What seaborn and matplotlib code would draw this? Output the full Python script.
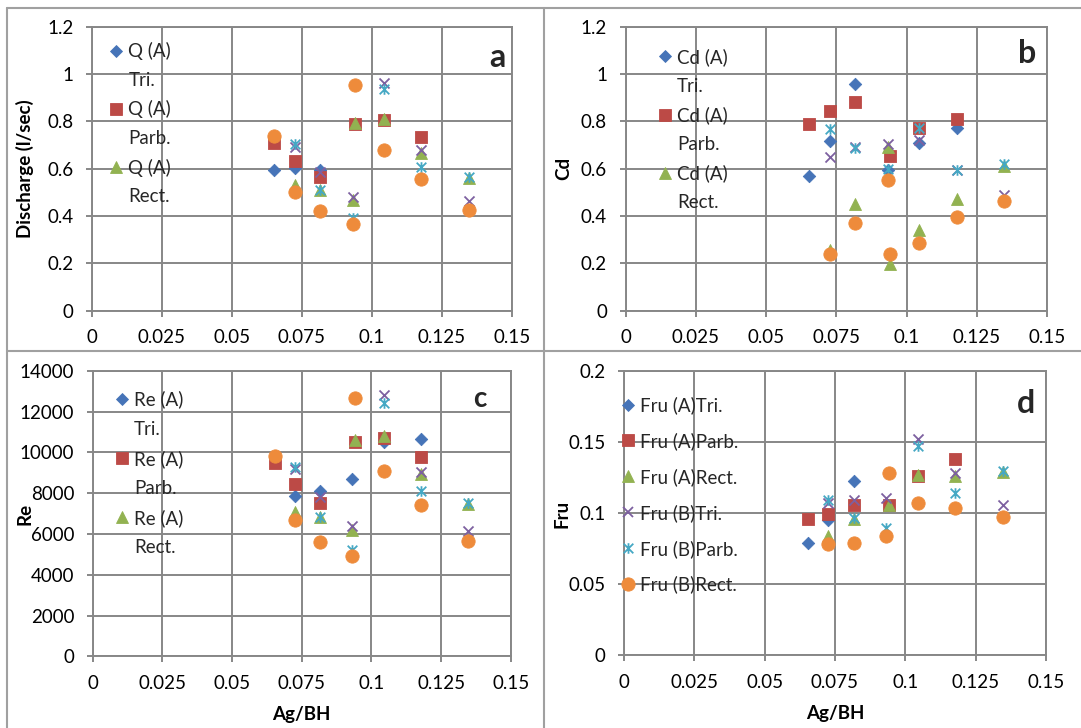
import numpy as np
import matplotlib
matplotlib.use("Agg")
import matplotlib.pyplot as plt
from matplotlib.lines import Line2D
from matplotlib.path import Path
import seaborn as sns

sns.set_theme(style="white")
plt.rcParams["font.family"] = ["Lato", "DejaVu Sans"]

nan = np.nan

# Ag/BH positions (two very close points near 0.093 / 0.094)
AGBH = [0.0653, 0.0726, 0.0816, 0.0932, 0.0941, 0.1045, 0.1178, 0.1346]

# a) discharge Q (l/sec)
Q_TRI_A = [0.596, 0.605, 0.595, nan, nan, nan, nan, nan]
Q_PARB_A = [0.71, 0.632, 0.565, nan, 0.79, 0.805, 0.735, nan]
Q_RECT_A = [nan, 0.53, 0.51, 0.466, 0.795, 0.808, 0.667, 0.562]
Q_TRI_B = [nan, 0.69, 0.587, 0.48, nan, 0.963, 0.678, 0.464]
Q_PARB_B = [nan, 0.703, 0.51, 0.392, nan, 0.935, 0.607, 0.565]
Q_RECT_B = [0.737, 0.502, 0.421, 0.368, 0.953, 0.681, 0.556, 0.424]

# b) Cd
CD_TRI_A = [0.568, 0.719, 0.956, 0.594, nan, 0.709, 0.77, nan]
CD_PARB_A = [0.787, 0.843, 0.881, nan, 0.653, 0.773, 0.808, nan]
CD_RECT_A = [nan, 0.255, 0.45, 0.69, 0.198, 0.34, 0.474, 0.612]
CD_TRI_B = [nan, 0.65, 0.69, 0.706, nan, 0.72, 0.594, 0.489]
CD_PARB_B = [nan, 0.767, 0.687, 0.60, nan, 0.773, 0.594, 0.62]
CD_RECT_B = [nan, 0.238, 0.371, 0.551, 0.241, 0.286, 0.396, 0.463]

# c) Re
RE_TRI_A = [nan, 7880, 8108, 8697, nan, 10528, 10659, nan]
RE_PARB_A = [9498, 8450, 7503, nan, 10530, 10692, 9792, nan]
RE_RECT_A = [nan, 7095, 6850, 6195, 10610, 10806, 8942, 7473]
RE_TRI_B = [nan, 9170, 7797, 6391, nan, 12818, 9056, 6149]
RE_PARB_B = [nan, 9270, 6850, 5214, nan, 12441, 8108, 7500]
RE_RECT_B = [9825, 6685, 5622, 4936, 12687, 9106, 7421, 5675]

# d) Fru
FRU_TRI_A = [0.0792, 0.0953, 0.1229, nan, nan, nan, nan, nan]
FRU_PARB_A = [0.0958, 0.0995, 0.1057, nan, 0.1059, 0.1267, 0.1384, nan]
FRU_RECT_A = [nan, 0.084, 0.0958, nan, 0.1059, 0.1271, 0.1264, 0.1294]
FRU_TRI_B = [nan, 0.1075, 0.1094, 0.1106, nan, 0.1524, 0.1283, 0.106]
FRU_PARB_B = [nan, 0.1094, 0.0965, 0.090, nan, 0.1472, 0.1146, 0.1297]
FRU_RECT_B = [nan, 0.0783, 0.0792, 0.0842, 0.1283, 0.1075, 0.1042, 0.0973]

X_TICKS = [0, 0.025, 0.05, 0.075, 0.1, 0.125, 0.15]
X_TICKLABELS = ["0", "0.025", "0.05", "0.075", "0.1", "0.125", "0.15"]
CD_TICKS = [0, 0.2, 0.4, 0.6, 0.8, 1.0, 1.2]
CD_TICKLABELS = ["0", "0.2", "0.4", "0.6", "0.8", "1", "1.2"]
RE_TICKS = [0, 2000, 4000, 6000, 8000, 10000, 12000, 14000]
RE_TICKLABELS = [str(t) for t in RE_TICKS]
FRU_TICKS = [0, 0.05, 0.1, 0.15, 0.2]
FRU_TICKLABELS = ["0", "0.05", "0.1", "0.15", "0.2"]

SHAPES = ["Tri.", "Parb.", "Rect."]

GRID = "#878787"
COLORS = ["#4674B8", "#BC4A46", "#92B251", "#7D60A0", "#45A8C4", "#EE8B3B"]
ASTER = Path([(-1, -1), (1, 1), (-1, 1), (1, -1), (0, -1.1), (0, 1.1)],
             [Path.MOVETO, Path.LINETO] * 3)
MARKERS = ["D", "s", "^", "x", ASTER, "o"]
SIZES = [40, 82, 74, 52, 58, 92]
LWS = [0.6, 0.6, 0.6, 1.3, 1.3, 0.6]
FS = 13.5

fig = plt.figure(figsize=(10.81, 7.28), dpi=100)


def panel(rect, series, ticks, ticklabels, ylabel, ylab_x, letter, letter_xy,
          letter_fs, leg_labels, leg_anchor, leg_spacing, xlabel=False):
    ax = fig.add_axes(rect)
    for vals, c, m, s, lw in zip(series, COLORS, MARKERS, SIZES, LWS):
        sns.scatterplot(x=AGBH, y=vals, color=c, marker=m, s=s, edgecolor=c,
                        linewidth=lw, ax=ax, legend=False, zorder=3, clip_on=False)
    ax.set_xlim(0, 0.15)
    ax.set_xticks(X_TICKS)
    ax.set_xticklabels(X_TICKLABELS)
    ax.set_ylim(ticks[0], ticks[-1])
    ax.set_yticks(ticks)
    ax.set_yticklabels(ticklabels)
    ax.grid(True, color=GRID, linewidth=1.4)
    ax.set_axisbelow(True)
    for sp in ax.spines.values():
        sp.set_color(GRID)
        sp.set_linewidth(1.4)
    ax.tick_params(axis="both", direction="out", length=4.3, width=1.4, color=GRID,
                   labelsize=FS, labelcolor="black", bottom=True, left=True)
    ax.tick_params(axis="x", pad=9)
    ax.tick_params(axis="y", pad=9)
    ax.set_ylabel(ylabel, fontsize=FS, fontweight="bold", color="black")
    ax.yaxis.set_label_coords(ylab_x, 0.5)
    ax.yaxis.label.set_va("center")
    ax.set_xlabel("")
    if xlabel:
        ax.set_xlabel("Ag/BH", fontsize=FS, fontweight="bold", color="black")
        ax.xaxis.set_label_coords(0.5, -0.205)
        ax.xaxis.label.set_va("center")
    ax.text(letter_xy[0], letter_xy[1], letter, transform=ax.transAxes,
            ha="center", va="baseline", fontsize=letter_fs, fontweight="bold")

    handles = []
    for c, m, s, lw in zip(COLORS, MARKERS, SIZES, LWS):
        handles.append(Line2D([], [], ls="none", marker=m, ms=np.sqrt(s), color=c,
                              mec=c, mew=lw))
    if len(leg_labels) == 6 and leg_labels[1] in SHAPES:
        blank = Line2D([], [], ls="none")
        hs = [handles[0], blank, handles[1], blank, handles[2], blank]
    else:
        hs = handles
    ax.legend(hs, leg_labels, loc="upper left", bbox_to_anchor=leg_anchor,
              frameon=False, fontsize=FS, handlelength=0.6, handletextpad=0.35,
              labelspacing=leg_spacing, borderpad=0, borderaxespad=0)
    return ax


def two_line(name):
    out = []
    for shp in SHAPES:
        out += [name + " (A)", shp]
    return out


panel([0.0848, 0.5732, 0.3885, 0.3901],
      [Q_TRI_A, Q_PARB_A, Q_RECT_A, Q_TRI_B, Q_PARB_B, Q_RECT_B],
      CD_TICKS, CD_TICKLABELS, "Discharge (l/sec)", -0.159,
      "a", (0.965, 0.859), 23, two_line("Q"), (0.045, 0.946), 0.62)

panel([0.5787, 0.5732, 0.3900, 0.3901],
      [CD_TRI_A, CD_PARB_A, CD_RECT_A, CD_TRI_B, CD_PARB_B, CD_RECT_B],
      CD_TICKS, CD_TICKLABELS, "Cd", -0.146,
      "b", (0.9526, 0.871), 23, two_line("Cd"), (0.080, 0.925), 0.62)

panel([0.0858, 0.0984, 0.3867, 0.3922],
      [RE_TRI_A, RE_PARB_A, RE_RECT_A, RE_TRI_B, RE_PARB_B, RE_RECT_B],
      RE_TICKS, RE_TICKLABELS, "Re", -0.162,
      "c", (0.9256, 0.875), 20, two_line("Re"), (0.0557, 0.931), 0.65, xlabel=True)

panel([0.5773, 0.0996, 0.3902, 0.3901],
      [FRU_TRI_A, FRU_PARB_A, FRU_RECT_A, FRU_TRI_B, FRU_PARB_B, FRU_RECT_B],
      FRU_TICKS, FRU_TICKLABELS, "Fru", -0.147,
      "d", (0.954, 0.853), 23,
      ["Fru (A)Tri.", "Fru (A)Parb.", "Fru (A)Rect.",
       "Fru (B)Tri.", "Fru (B)Parb.", "Fru (B)Rect."],
      (-0.004, 0.913), 0.96, xlabel=True)

# cell borders
BORDER = "#a0a0a0"
W, H = 1081, 728
for (x0, y0, x1, y1) in [(7, 8, W, 8), (7, 8, 7, H), (543.5, 8, 543.5, H), (7, 351, W, 351)]:
    fig.add_artist(Line2D([x0 / W, x1 / W], [1 - y0 / H, 1 - y1 / H],
                          transform=fig.transFigure, color=BORDER, lw=1.5))

fig.savefig("out.png", dpi=100)
